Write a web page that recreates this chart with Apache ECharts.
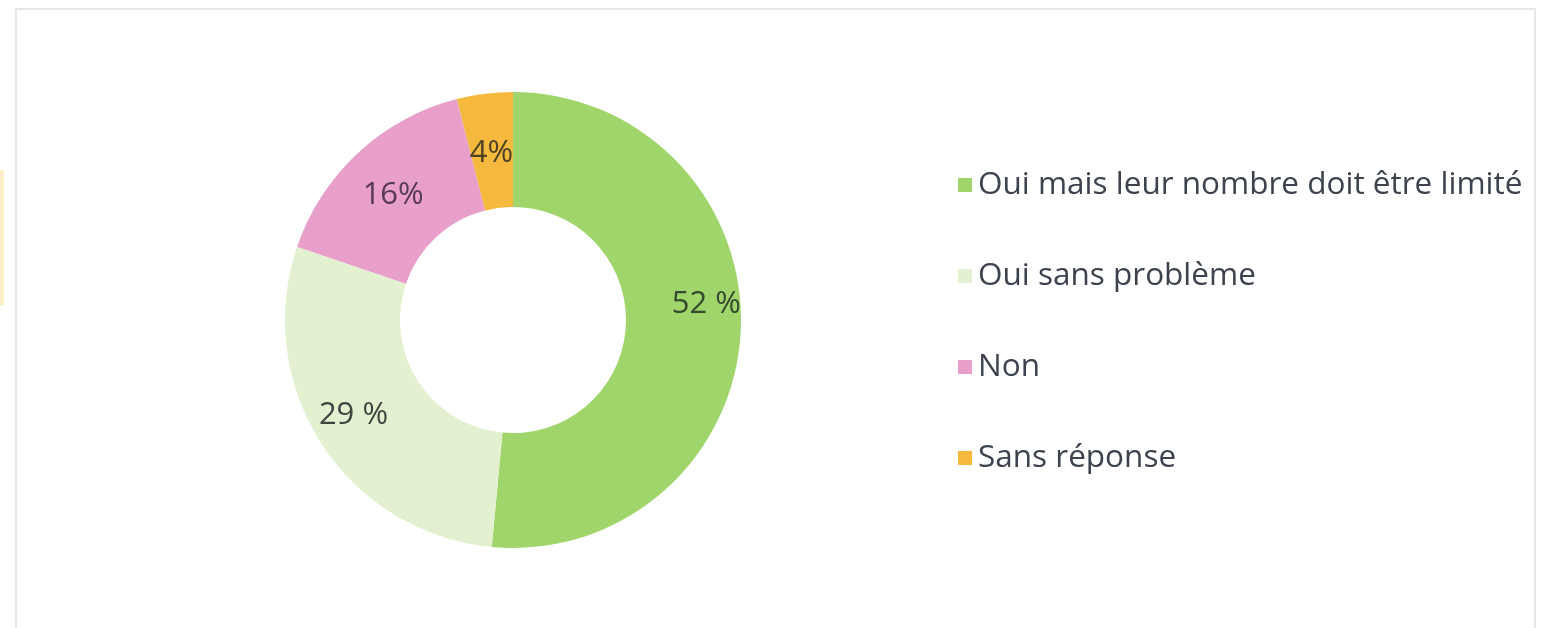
<!DOCTYPE html>
<html>
<head>
<meta charset="utf-8">
<script src="https://cdn.jsdelivr.net/npm/echarts@6/dist/echarts.min.js"></script>
<style>
  html, body { margin: 0; padding: 0; background: #fff; }
  #main { width: 1542px; height: 628px; }
</style>
</head>
<body>
<div id="main"></div>
<script>
// données du graphique
var categories = ['Oui mais leur nombre doit être limité', 'Oui sans problème', 'Non', 'Sans réponse'];
var values = [52, 29, 16, 4];
var labelTexts = ['52 %', '29 %', '16%', '4%'];
var colors = ['#9fd56a', '#e4f1d0', '#e89fc9', '#f5b93e'];
var labelColors = ['#35492f', '#3b4740', '#563a58', '#4d4226'];
// décalage des étiquettes (comme dans Excel)
var labelOffsets = [[20, -24], [-14, 1], [-2, 3], [0, 5]];

var chart = echarts.init(document.getElementById('main'));

var pieData = [];
for (var i = 0; i < categories.length; i++) {
  pieData.push({
    name: categories[i],
    value: values[i],
    itemStyle: { color: colors[i] },
    label: { color: labelColors[i], offset: labelOffsets[i] }
  });
}

chart.setOption({
  animation: false,
  graphic: [
    {
      type: 'rect',
      shape: { x: 16, y: 9, width: 1519, height: 650 },
      style: { fill: 'none', stroke: '#e6e6e6', lineWidth: 2 }
    },
    {
      type: 'rect',
      shape: { x: 0, y: 170, width: 4, height: 135 },
      style: { fill: '#fdeec8' }
    }
  ],
  legend: {
    orient: 'vertical',
    left: 953,
    top: 164,
    icon: 'rect',
    itemWidth: 14,
    itemHeight: 14,
    itemGap: 59,
    textStyle: {
      fontFamily: 'Open Sans',
      fontSize: 31.5,
      color: '#3d434e',
      padding: [0, 0, 0, 1]
    },
    data: categories
  },
  series: [
    {
      type: 'pie',
      center: [513, 320],
      radius: [113, 228],
      startAngle: 90,
      clockwise: true,
      avoidLabelOverlap: false,
      label: {
        show: true,
        position: 'inside',
        fontFamily: 'Open Sans',
        fontSize: 31,
        formatter: function (p) { return labelTexts[p.dataIndex]; }
      },
      labelLine: { show: false },
      emphasis: { disabled: true },
      data: pieData
    }
  ]
});
</script>
</body>
</html>
